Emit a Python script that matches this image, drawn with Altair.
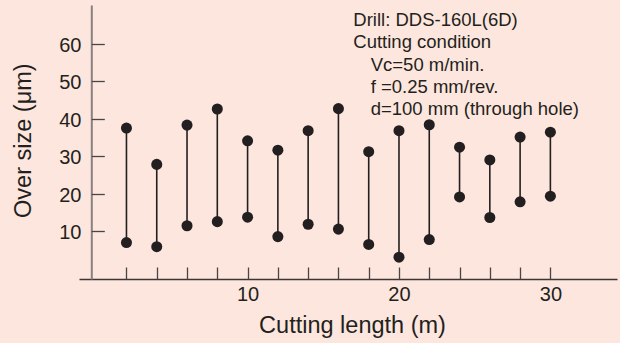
import altair as alt
import pandas as pd

# ---- data ----
cutting_length = [2, 4, 6, 8, 10, 12, 14, 16, 18, 20, 22, 24, 26, 28, 30]
oversize_max = [37.5, 27.8, 38.3, 42.6, 34.1, 31.6, 36.8, 42.7, 31.2, 36.8, 38.4, 32.4, 29.0, 35.1, 36.4]
oversize_min = [6.9, 5.8, 11.4, 12.5, 13.7, 8.5, 11.8, 10.5, 6.4, 3.0, 7.7, 19.1, 13.6, 17.8, 19.3]
x_ticks = [2, 4, 6, 8, 10, 12, 14, 16, 18, 20, 22, 24, 26, 28, 30]
y_ticks = [10, 20, 30, 40, 50, 60]
x_title = "Cutting length (m)"
y_title = "Over size (μm)"
note_head = ["Drill: DDS-160L(6D)", "Cutting condition"]
note_body = ["Vc=50 m/min.", "f =0.25 mm/rev.", "d=100 mm (through hole)"]

df = pd.DataFrame({"x": cutting_length, "lo": oversize_min, "hi": oversize_max})
pts = pd.concat([
    pd.DataFrame({"x": cutting_length, "y": oversize_min}),
    pd.DataFrame({"x": cutting_length, "y": oversize_max}),
], ignore_index=True)

FONT = "Liberation Sans"
INK = "#231f20"
BG = "#fde6dd"

xs = alt.Scale(domain=[-1.135, 34.4], nice=False, zero=False)
ys = alt.Scale(domain=[-2.83, 70.4], nice=False, zero=False)

line_axis_x = alt.Axis(orient="bottom", offset=0, domain=True, domainColor="#3a3636",
                       domainWidth=1.5, ticks=False, labels=False, grid=False, title=None)
line_axis_y = alt.Axis(orient="left", offset=-12.3, domain=True, domainColor="#8a8080",
                       domainWidth=2, ticks=False, labels=False, grid=False, title=None)
tick_axis_x = alt.Axis(orient="bottom", offset=-12, domain=False, ticks=True, tickSize=12,
                       tickColor="#4a4444", tickWidth=1.3, values=x_ticks,
                       labelExpr="datum.value % 10 == 0 ? datum.label : ''",
                       labelFontSize=20, labelFont=FONT, labelColor=INK, labelPadding=5,
                       labelOverlap=False, labelFlush=False, grid=False, title=None)
tick_axis_y = alt.Axis(orient="left", offset=-25.3, domain=False, ticks=True, tickSize=13,
                       tickColor="#4a4444", tickWidth=1.3, values=y_ticks,
                       labelFontSize=20, labelFont=FONT, labelColor=INK, labelPadding=10.3,
                       labelOffset=1.5, labelOverlap=False, labelFlush=False,
                       grid=False, title=None)

rules = alt.Chart(df).mark_rule(color=INK, strokeWidth=1.6).encode(
    x=alt.X("x:Q", scale=xs, axis=line_axis_x),
    y=alt.Y("lo:Q", scale=ys, axis=line_axis_y),
    y2="hi:Q",
)

dots = alt.Chart(pts).mark_circle(size=122, color=INK, opacity=1).encode(
    x=alt.X("x:Q", scale=xs, axis=tick_axis_x),
    y=alt.Y("y:Q", scale=ys, axis=tick_axis_y),
)

blank = alt.Data(values=[{}])

xt = alt.Chart(blank).mark_text(text=x_title, font=FONT, fontSize=23.5, color=INK,
                                align="center", baseline="alphabetic").encode(
    x=alt.value(273.5), y=alt.value(328))
yt = alt.Chart(blank).mark_text(text=y_title, font=FONT, fontSize=23.5, color=INK,
                                align="center", baseline="middle", angle=270).encode(
    x=alt.value(-55), y=alt.value(135.7))
nh = alt.Chart(blank).mark_text(text=note_head, font=FONT, fontSize=18.5, color=INK,
                                align="left", baseline="alphabetic", lineHeight=22.3).encode(
    x=alt.value(274.3), y=alt.value(21))
nb = alt.Chart(blank).mark_text(text=note_body, font=FONT, fontSize=18.5, color=INK,
                                align="left", baseline="alphabetic", lineHeight=22.3).encode(
    x=alt.value(291.7), y=alt.value(65.6))

chart = alt.layer(rules, dots, xt, yt, nh, nb).resolve_axis(
    x="independent", y="independent"
).properties(
    width=538, height=274, background=BG,
    padding={"left": 79, "top": 5, "right": 3, "bottom": 64},
    autosize=alt.AutoSizeParams(type="none"),
).configure_view(stroke=None)

chart.save("out.html", embed_options={"renderer": "svg", "actions": False})
